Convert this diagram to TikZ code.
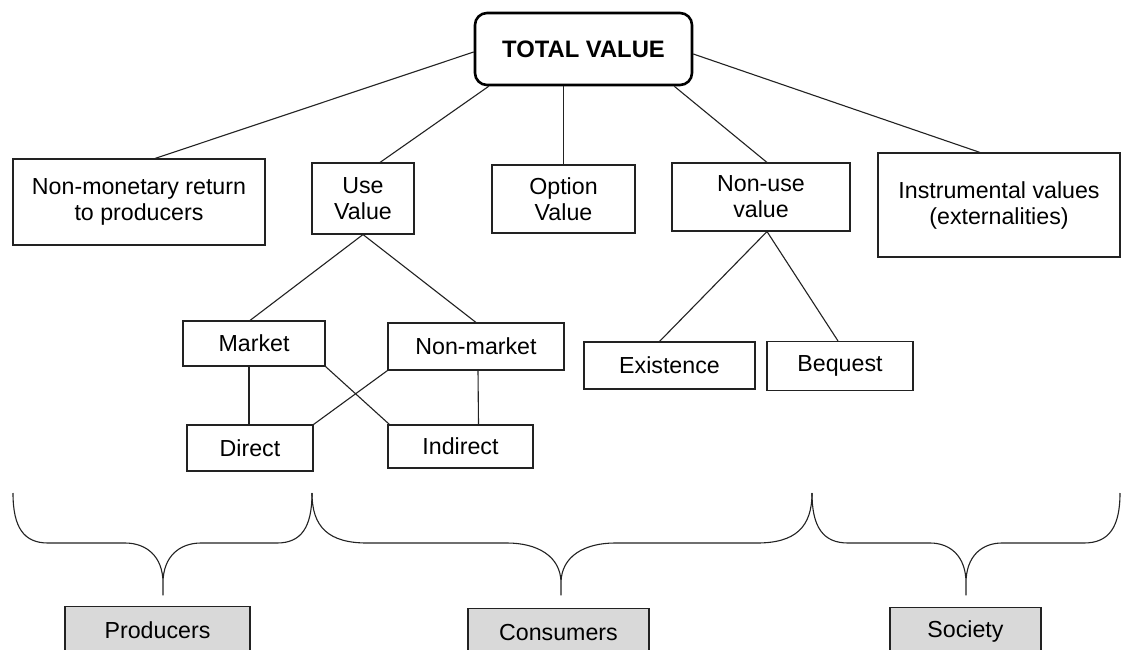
\documentclass[tikz,border=0pt]{standalone}
\usepackage{fontspec}
\setmainfont{Liberation Sans}
\usetikzlibrary{calc}
\definecolor{boxgray}{HTML}{D9D9D9}
\definecolor{ink}{HTML}{222222}
\tikzset{
  base/.style={draw=ink, line width=1.1pt, rectangle, inner sep=0pt, align=center,
    font=\fontsize{23.2}{26}\selectfont, text=black},
  wbox/.style={base, fill=white},
  gbox/.style={base, fill=boxgray},
  topbox/.style={draw=black, line width=2.6pt, rounded corners=12pt, inner sep=0pt,
    fill=white, font=\bfseries\fontsize{23.8}{27}\selectfont},
  link/.style={draw=ink, line width=1.1pt},
  bracepath/.style={draw=ink, line width=1.1pt, line join=round}
}
\begin{document}
\begin{tikzpicture}[x=1pt, y=-1pt]
\useasboundingbox (0,0) rectangle (1124,650);
\clip (0,0) rectangle (1124,650);
\fill[white] (0,0) rectangle (1124,650);

% nodes
\node[topbox, minimum width=217, minimum height=72] (tv) at (583.5,49) {TOTAL VALUE};
\node[wbox, minimum width=252, minimum height=86] (nm) at (139,202) {Non-monetary return\\to producers};
\node[wbox, minimum width=102, minimum height=71] (use) at (363,198.5) {Use\\Value};
\node[wbox, minimum width=143, minimum height=68] (opt) at (563.5,199) {Option\\Value};
\node[wbox, minimum width=178, minimum height=68] (non) at (761,197) {Non-use\\value};
\node[wbox, minimum width=242, minimum height=104] (ins) at (999,205) {Instrumental values\\(externalities)};
\node[wbox, minimum width=142, minimum height=45] (mkt) at (254,343.5) {Market};
\node[wbox, minimum width=176, minimum height=47] (nmk) at (476,346.5) {Non-market};
\node[wbox, minimum width=126, minimum height=46] (dir) at (250,448) {Direct};
\node[wbox, minimum width=145, minimum height=43] (ind) at (460.5,446.5) {Indirect};
\node[wbox, minimum width=171, minimum height=47] (exi) at (669.5,365.5) {Existence};
\node[wbox, minimum width=146, minimum height=49] (beq) at (840,366) {Bequest};
\node[gbox, minimum width=185, minimum height=48, anchor=north] (prod) at (157.5,606) {Producers};
\node[gbox, minimum width=181, minimum height=48, anchor=north] (cons) at (558.5,608) {Consumers};
\node[gbox, minimum width=151, minimum height=48, anchor=north] (soc) at (965.5,607) {Society};

% connectors from total value
\draw[link] ([yshift=-3pt]tv.west) -- ([xshift=16pt]nm.north);
\draw[link] ([xshift=15pt]tv.south west) -- ([xshift=17pt]use.north);
\draw[link] (opt.north) -- (opt.north |- tv.south);
\draw[link] ([xshift=-19pt]tv.south east) -- ([xshift=6pt]non.north);
\draw[link] ([yshift=-5pt]tv.east) -- ([xshift=-19pt]ins.north);

% use value subtree
\draw[link] (use.south) -- ([xshift=-4pt]mkt.north);
\draw[link] (use.south) -- (nmk.north);
\draw[link] ([xshift=-1pt]dir.north) -- ([xshift=-1pt]dir.north |- mkt.south);
\draw[link] (mkt.south east) -- ([xshift=2pt]ind.north west);
\draw[link] (nmk.south west) -- (dir.north east);
\draw[link] ([xshift=2pt]nmk.south) -- ([xshift=18pt]ind.north);

% non-use subtree
\draw[link] ([xshift=6pt]non.south) -- ([xshift=-10pt]exi.north);
\draw[link] ([xshift=6pt]non.south) -- ([xshift=-2pt]beq.north);

% braces
\draw[bracepath] (13,493) .. controls (13,527) and (23.5,543) .. (48,543) -- (125,543)
  .. controls (146,543) and (163,556) .. (163,583) -- (163,595) -- (163,583)
  .. controls (163,556) and (180,543) .. (201,543) -- (277,543)
  .. controls (301.5,543) and (312,527) .. (312,493);
\draw[bracepath] (312,493) .. controls (312,527) and (328.5,543) .. (367,543) -- (507,543)
  .. controls (537,543) and (561,556) .. (561,583) -- (561,595) -- (561,583)
  .. controls (561,556) and (585,543) .. (615,543) -- (757,543)
  .. controls (795.5,543) and (812,527) .. (812,493);
\draw[bracepath] (812,493) .. controls (812,527) and (823,543) .. (848,543) -- (930,543)
  .. controls (950,543) and (966,556) .. (966,583) -- (966,595) -- (966,583)
  .. controls (966,556) and (982,543) .. (1002,543) -- (1084,543)
  .. controls (1109,543) and (1120,527) .. (1120,493);
\end{tikzpicture}
\end{document}
